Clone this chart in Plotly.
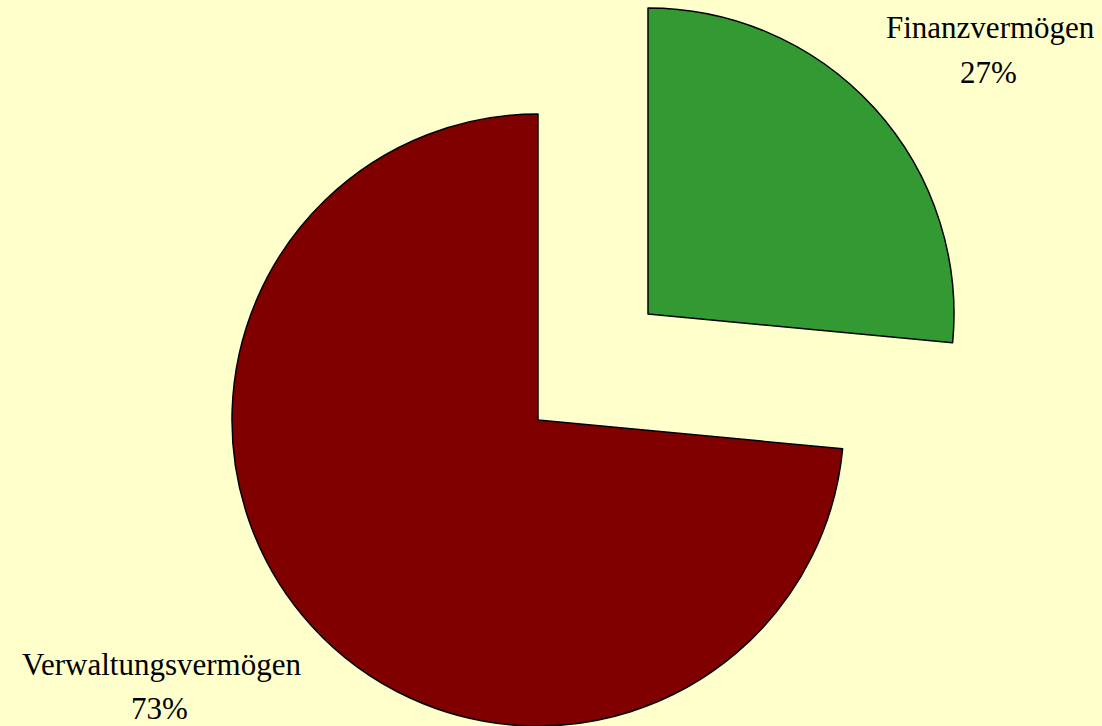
import plotly.graph_objects as go

labels = ["Finanzvermögen", "Verwaltungsvermögen"]
values = [26.5, 73.5]
pct_text = ["27%", "73%"]
colors = ["#339933", "#800000"]

W, H = 1102, 726

def dom(cx, cy, r):
    return dict(x=[(cx - r) / W, (cx + r) / W],
                y=[(H - cy - r) / H, (H - cy + r) / H])

fig = go.Figure()
# main (Verwaltungsvermögen) slice
fig.add_trace(go.Pie(
    labels=labels, values=values, sort=False, direction="clockwise", rotation=0,
    marker=dict(colors=["rgba(0,0,0,0)", colors[1]], line=dict(color=["rgba(0,0,0,0)", "black"], width=[0, 1.5])),
    textinfo="none", hoverinfo="label+percent", showlegend=False,
    domain=dom(538, 420, 306),
))
# exploded (Finanzvermögen) slice
fig.add_trace(go.Pie(
    labels=labels, values=values, sort=False, direction="clockwise", rotation=0,
    marker=dict(colors=[colors[0], "rgba(0,0,0,0)"], line=dict(color=["black", "rgba(0,0,0,0)"], width=[1.5, 0])),
    textinfo="none", hoverinfo="label+percent", showlegend=False,
    domain=dom(648, 314, 306),
))

label_pos = [(990, 28), (161, 664)]
for lab, pt, (x, y) in zip(labels, pct_text, label_pos):
    fig.add_annotation(x=x / W, y=1 - y / H, xref="paper", yref="paper",
                       text=lab, showarrow=False, xanchor="center", yanchor="middle",
                       font=dict(family="Liberation Serif", size=31, color="black"))
    fig.add_annotation(x=(x - 2) / W, y=1 - (y + 44) / H, xref="paper", yref="paper",
                       text=pt, showarrow=False, xanchor="center", yanchor="middle",
                       font=dict(family="Liberation Serif", size=31, color="black"))

fig.update_layout(
    width=W, height=H,
    margin=dict(l=0, r=0, t=0, b=0),
    paper_bgcolor="#FFFFCC", plot_bgcolor="#FFFFCC",
    showlegend=False,
)
fig.write_html(
    "out.html",
    config={"displayModeBar": False},
    post_script="document.body.style.margin='0';document.body.style.overflow='hidden';document.body.style.background='#FFFFCC';",
)
